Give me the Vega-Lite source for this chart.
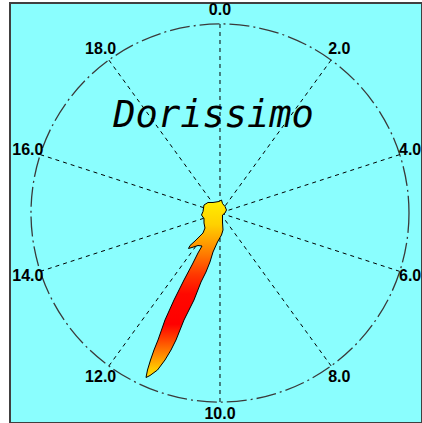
{
  "$schema": "https://vega.github.io/schema/vega-lite/v6.json",
  "width": 412,
  "height": 420,
  "autosize": {"type": "none"},
  "padding": {"left": 10, "top": 3, "right": 0, "bottom": 0},
  "background": "#ffffff",
  "config": {
    "view": {"fill": "#8AFEFE", "stroke": "#404040", "strokeWidth": 2}
  },
  "datasets": {
    "center": [{"x": 0, "y": 0}],
    "spokes": [
      {"h": 0, "x": 0, "y": 1},
      {"h": 2, "x": 0.5878, "y": 0.809},
      {"h": 4, "x": 0.9511, "y": 0.309},
      {"h": 6, "x": 0.9511, "y": -0.309},
      {"h": 8, "x": 0.5878, "y": -0.809},
      {"h": 10, "x": 0, "y": -1},
      {"h": 12, "x": -0.5878, "y": -0.809},
      {"h": 14, "x": -0.9511, "y": -0.309},
      {"h": 16, "x": -0.9511, "y": 0.309},
      {"h": 18, "x": -0.5878, "y": 0.809}
    ],
    "labels": [
      {"label": "0.0", "x": 0, "y": 1.074},
      {"label": "2.0", "x": 0.6313, "y": 0.8689},
      {"label": "4.0", "x": 1.006, "y": 0.3319},
      {"label": "6.0", "x": 1.006, "y": -0.3319},
      {"label": "8.0", "x": 0.6313, "y": -0.8689},
      {"label": "10.0", "x": 0, "y": -1.066},
      {"label": "12.0", "x": -0.6313, "y": -0.8689},
      {"label": "14.0", "x": -1.0165, "y": -0.3319},
      {"label": "16.0", "x": -1.0165, "y": 0.3319},
      {"label": "18.0", "x": -0.6313, "y": 0.8689}
    ],
    "title": [{"text": "Dorissimo", "x": -0.034, "y": 0.455}],
    "flame": [
      {"i": 1, "x": -0.0847, "y": 0.0423},
      {"i": 2, "x": -0.0635, "y": 0.0556},
      {"i": 3, "x": -0.037, "y": 0.0556},
      {"i": 4, "x": -0.0053, "y": 0.0608},
      {"i": 5, "x": 0.0079, "y": 0.0688},
      {"i": 6, "x": 0.0132, "y": 0.0503},
      {"i": 7, "x": 0.0265, "y": 0.0344},
      {"i": 8, "x": 0.0344, "y": 0.0159},
      {"i": 9, "x": 0.0265, "y": 0},
      {"i": 10, "x": 0.0132, "y": -0.0106},
      {"i": 11, "x": 0.0132, "y": -0.0476},
      {"i": 12, "x": 0.0159, "y": -0.0899},
      {"i": 13, "x": 0.0079, "y": -0.1164},
      {"i": 14, "x": -0.0132, "y": -0.1534},
      {"i": 15, "x": -0.037, "y": -0.2063},
      {"i": 16, "x": -0.053, "y": -0.2593},
      {"i": 17, "x": -0.0741, "y": -0.3122},
      {"i": 18, "x": -0.1005, "y": -0.3651},
      {"i": 19, "x": -0.1376, "y": -0.4603},
      {"i": 20, "x": -0.1905, "y": -0.5661},
      {"i": 21, "x": -0.2328, "y": -0.672},
      {"i": 22, "x": -0.2593, "y": -0.7249},
      {"i": 23, "x": -0.291, "y": -0.7778},
      {"i": 24, "x": -0.3307, "y": -0.8307},
      {"i": 25, "x": -0.3704, "y": -0.8598},
      {"i": 26, "x": -0.3915, "y": -0.8704},
      {"i": 27, "x": -0.3836, "y": -0.8307},
      {"i": 28, "x": -0.3677, "y": -0.7778},
      {"i": 29, "x": -0.3492, "y": -0.7249},
      {"i": 30, "x": -0.328, "y": -0.672},
      {"i": 31, "x": -0.291, "y": -0.5661},
      {"i": 32, "x": -0.2434, "y": -0.4603},
      {"i": 33, "x": -0.1905, "y": -0.3545},
      {"i": 34, "x": -0.1455, "y": -0.2698},
      {"i": 35, "x": -0.1164, "y": -0.2116},
      {"i": 36, "x": -0.0952, "y": -0.1746},
      {"i": 37, "x": -0.1164, "y": -0.172},
      {"i": 38, "x": -0.1481, "y": -0.1825},
      {"i": 39, "x": -0.1667, "y": -0.1878},
      {"i": 40, "x": -0.1587, "y": -0.172},
      {"i": 41, "x": -0.1323, "y": -0.1481},
      {"i": 42, "x": -0.1111, "y": -0.127},
      {"i": 43, "x": -0.0899, "y": -0.1058},
      {"i": 44, "x": -0.0794, "y": -0.0794},
      {"i": 45, "x": -0.0847, "y": -0.0529},
      {"i": 46, "x": -0.0847, "y": -0.0291},
      {"i": 47, "x": -0.0979, "y": -0.0106},
      {"i": 48, "x": -0.0899, "y": 0.0079},
      {"i": 49, "x": -0.0847, "y": 0.0423}
    ]
  },
  "encoding": {
    "x": {"field": "x", "type": "quantitative", "axis": null,
          "scale": {"domain": [-1.1111, 1.0688], "zero": false, "nice": false}},
    "y": {"field": "y", "type": "quantitative", "axis": null,
          "scale": {"domain": [-1.1111, 1.1111], "zero": false, "nice": false}}
  },
  "layer": [
    {
      "data": {"name": "center"},
      "mark": {"type": "point", "shape": "circle", "size": 142884, "filled": false,
               "stroke": "#3a3a3a", "strokeWidth": 1.3, "strokeDash": [20, 4, 2, 4], "opacity": 1}
    },
    {
      "data": {"name": "spokes"},
      "mark": {"type": "rule", "stroke": "#000000", "strokeWidth": 1, "strokeDash": [4, 4]},
      "encoding": {"x2": {"datum": 0}, "y2": {"datum": 0}}
    },
    {
      "data": {"name": "title"},
      "mark": {"type": "text", "font": "DejaVu Sans Mono", "fontStyle": "italic",
               "fontSize": 37, "align": "center", "baseline": "alphabetic", "color": "#000000"},
      "encoding": {"text": {"field": "text"}}
    },
    {
      "data": {"name": "labels"},
      "mark": {"type": "text", "font": "Liberation Sans", "fontWeight": "bold",
               "fontSize": 16, "align": "center", "baseline": "middle", "color": "#000000"},
      "encoding": {"text": {"field": "label"}}
    },
    {
      "data": {"name": "flame"},
      "mark": {
        "type": "line",
        "stroke": "#000000",
        "strokeWidth": 1,
        "fill": {
          "gradient": "linear", "x1": 0, "y1": 0, "x2": 0, "y2": 1,
          "stops": [
            {"offset": 0, "color": "#FFF000"},
            {"offset": 0.14, "color": "#FFD000"},
            {"offset": 0.22, "color": "#FFA800"},
            {"offset": 0.31, "color": "#FF7800"},
            {"offset": 0.42, "color": "#FF3800"},
            {"offset": 0.53, "color": "#FF0800"},
            {"offset": 0.7, "color": "#FF0000"},
            {"offset": 0.8, "color": "#FF5000"},
            {"offset": 0.88, "color": "#FF9000"},
            {"offset": 0.95, "color": "#FFC800"},
            {"offset": 1, "color": "#FFE000"}
          ]
        }
      },
      "encoding": {"order": {"field": "i", "type": "quantitative"}}
    }
  ]
}
